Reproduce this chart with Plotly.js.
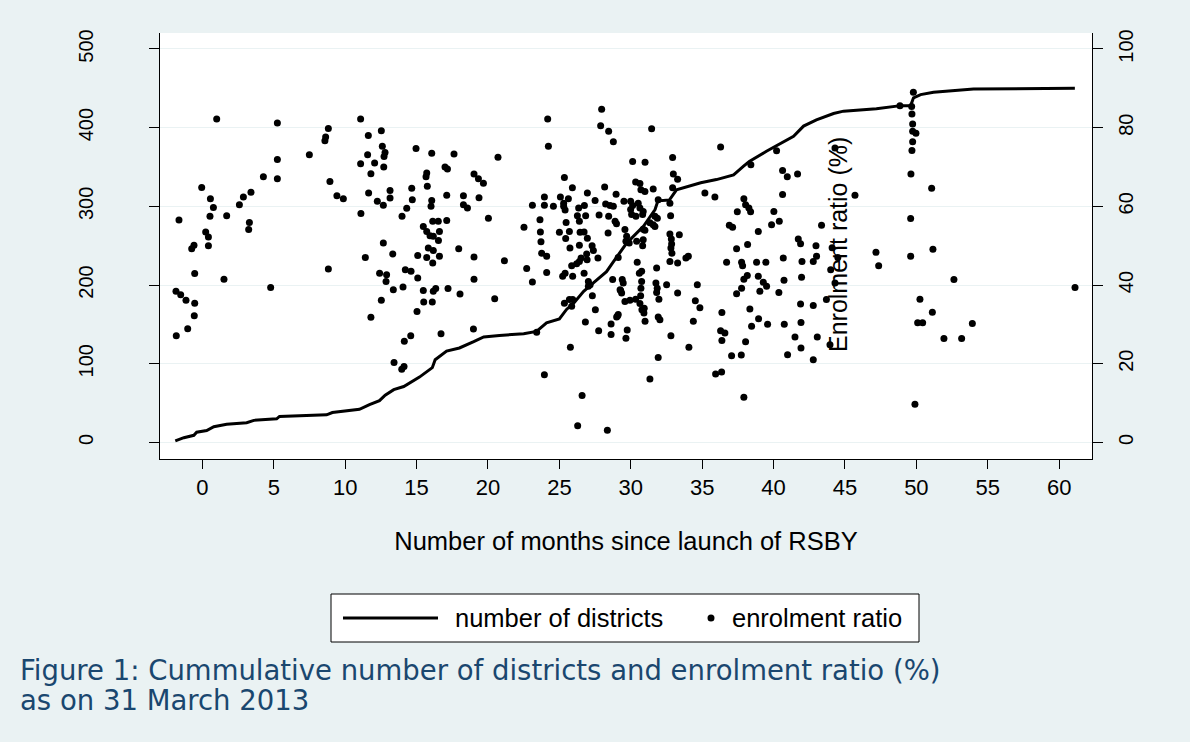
<!DOCTYPE html>
<html><head><meta charset="utf-8">
<script src="https://cdn.plot.ly/plotly-3.0.1.min.js"></script>
<style>html,body{margin:0;padding:0;background:#EAF2F3;}#chart{width:1190px;height:742px;}</style>
</head><body><div id="chart"></div>
<script>
// ---- data ----
const curveMonths = [-1.9,-1.3,-0.6,-0.4,0.3,0.8,1.7,3.1,3.6,5.2,5.4,8.7,9.1,11.0,11.7,12.4,12.8,13.4,14.1,15.2,16.1,16.3,17.1,18.0,19.0,19.7,20.8,22.5,23.4,24.1,25.0,25.5,26.0,26.7,27.4,28.3,28.8,29.7,30.9,31.7,31.9,32.7,33.2,33.9,34.9,36.0,37.2,37.9,38.3,39.5,40.5,41.4,42.1,43.0,44.2,44.9,47.2,48.9,49.6,49.8,50.3,51.2,54.0,61.1];
const curveDistricts = [2,6,9,13,15,20,23,25,28,30,33,35,38,42,48,53,60,67,71,83,95,105,116,120,128,134,136,138,141,152,157,169,177,192,203,217,230,253,275,296,307,308,321,325,330,334,340,351,357,370,380,389,402,410,418,421,424,428,428,438,442,445,449,450];

const enrolmentPoints = [
[1.0,82.2],[5.25,81.2],[8.82,79.8],[8.63,77.6],[8.58,76.7],[11.08,82.2],[12.53,79.2],[11.62,78.0],[12.6,75.3],[12.79,73.7],
[12.72,72.7],[11.57,73.1],[11.08,70.8],[12.06,71.0],[12.7,70.0],[11.8,68.3],[7.49,73.1],[5.25,71.9],[5.25,67.0],[4.27,67.5],
[-0.05,64.8],[0.56,61.9],[0.77,59.7],[0.53,57.5],[1.7,57.6],[2.59,60.4],[2.87,62.4],[3.4,63.6],[3.29,55.9],[3.24,54.1],
[-1.64,56.5],[0.23,53.5],[0.42,52.2],[0.42,50.0],[-0.75,49.2],[-0.59,50.1],[-0.54,42.9],[1.51,41.5],[8.93,66.3],[9.42,62.7],
[9.87,61.9],[11.1,58.2],[11.64,63.4],[12.25,61.3],[12.67,60.3],[12.67,50.7],[11.41,47.0],[8.82,44.1],[12.41,43.0],[12.9,42.6],
[-1.85,38.4],[-1.52,37.5],[-1.15,36.1],[-0.54,35.4],[-0.57,32.2],[-1.03,28.9],[-1.83,27.1],[4.78,39.4],[12.86,40.9],[12.53,36.1],[11.8,31.8],
[13.14,64.0],[13.14,62.1],[14.96,74.7],[16.06,73.5],[17.62,73.3],[16.99,70.0],[17.16,69.5],[15.71,68.5],[15.66,67.5],[15.75,65.1],
[14.66,64.6],[14.7,61.7],[14.31,59.5],[13.98,57.5],[16.06,61.5],[16.01,60.0],[17.11,62.8],[18.28,62.7],[18.28,60.4],[18.56,59.6],
[19.02,68.2],[19.33,67.0],[19.68,65.9],[19.37,62.2],[20.03,57.0],[20.7,72.5],
[15.47,54.9],[15.71,53.6],[15.94,52.5],[16.17,52.4],[16.13,56.2],[16.52,56.2],[16.6,53.6],[16.53,51.3],[17.11,56.4],[15.82,49.4],
[16.17,48.8],[16.6,47.3],[15.71,47.0],[16.13,45.6],[15.08,47.5],[17.95,49.2],[19.02,47.1],[21.15,46.2],[13.33,47.9],[14.21,43.9],
[14.61,43.5],[15.08,41.8],[19.02,41.5],[22.71,44.2],
[22.52,54.7],[23.11,60.3],[23.64,56.6],[23.67,53.5],[23.71,51.0],[23.76,48.1],[24.11,47.3],[24.11,43.2],[23.95,62.4],[23.95,60.3],
[24.58,60.0],[24.18,82.2],[24.23,75.3],[25.35,67.3],[25.91,64.7],[25.07,62.4],[25.63,61.9],[25.3,60.8],[25.3,60.0],[25.4,59.1],
[25.47,55.9],[25.0,53.4],[25.7,53.6],[25.44,51.8],[25.74,49.4],[26.26,57.6],[26.4,56.2],[26.35,59.6],[26.75,60.2],[26.84,57.6],
[26.96,63.4],[27.5,61.5],[26.45,53.4],[26.73,53.5],[26.96,51.9],[26.4,50.1],[27.29,50.0],[27.38,48.8],[26.91,47.9],[26.94,46.4],
[26.52,46.9],[26.4,46.0],[26.21,45.4],[25.86,44.9],[25.4,43.0],[25.23,42.2],[26.73,43.0],[27.7,46.9],[27.96,84.7],[27.89,80.5],
[28.45,79.1],[28.78,76.4],[28.17,64.9],[28.97,63.1],[27.78,57.8],[28.24,60.6],[28.55,60.2],[28.78,60.0],[28.45,57.5],[28.9,56.2],
[29.0,55.6],[28.41,53.2],
[13.37,38.8],[14.05,39.5],[15.47,38.6],[16.17,38.4],[16.34,39.1],[15.5,35.7],[16.1,35.7],[15.03,33.3],[17.2,39.1],[18.04,37.7],
[20.47,36.5],[14.59,27.1],[14.14,25.7],[16.71,27.6],[18.98,28.8],[13.42,20.3],[13.96,18.6],[14.12,19.3],[23.11,40.8],[23.41,28.0],
[23.95,17.2],[25.93,42.2],[27.03,40.9],[27.15,40.1],[27.03,39.7],[28.73,41.4],[29.25,38.8],[27.31,37.3],[25.35,35.4],[25.7,36.3],
[25.93,36.3],[25.86,34.6],[27.52,33.7],[26.82,30.6],[27.75,28.4],[28.62,30.1],[28.62,27.4],[29.08,32.2],[25.77,24.2],[26.59,11.9],
[26.28,4.2],[28.36,3.1],
[31.46,79.7],[30.13,71.4],[31.0,71.2],[32.93,72.4],[32.98,68.2],[33.28,66.9],[32.93,64.7],[30.34,66.2],[30.64,65.8],[30.71,64.2],
[30.99,63.8],[31.57,64.4],[29.52,61.3],[29.99,61.3],[30.13,60.2],[29.99,59.2],[30.06,57.9],[30.52,60.8],[30.64,59.6],[30.87,58.7],
[30.83,57.9],[30.36,57.5],[31.92,61.7],[32.74,60.8],[32.79,57.6],[31.69,57.5],[31.86,57.0],[31.34,55.8],[31.57,55.3],[31.69,54.9],
[30.87,54.2],[30.99,53.9],[29.59,54.1],[29.71,52.4],[29.66,51.1],[29.89,50.7],[30.41,51.1],[30.87,51.5],[30.83,50.0],[29.12,47.0],
[30.45,45.8],[30.76,43.5],[30.6,43.0],[31.81,44.3],[32.74,46.0],[33.28,45.6],[33.86,46.9],[34.03,47.3],[32.84,51.7],[32.86,50.4],
[32.81,49.4],[32.88,48.1],[33.4,52.8],[32.74,53.0],[35.19,63.4],[35.89,62.4],[36.29,75.1],[38.41,70.6],[40.21,74.1],[40.63,69.1],
[40.96,67.5],[41.68,68.2],[40.63,63.0],[37.92,61.9],[38.04,60.4],[38.27,59.6],[38.39,58.6],[37.46,58.6],[36.9,55.2],[37.13,54.7],
[38.93,53.6],[38.18,50.3],[37.41,49.2],[36.71,45.8],[37.76,45.8],[37.83,44.9],[38.81,45.8],[39.46,45.8],[40.02,58.7],[39.86,55.3],
[40.4,56.2],[40.68,46.9],[41.73,51.7],[41.89,50.5],[41.99,46.0],[42.78,46.0],[43.01,47.3],[42.97,50.0],[43.36,55.2],[44.3,74.8],
[41.96,42.0],[29.4,41.4],[29.47,40.5],[29.29,38.6],[29.36,38.0],[29.59,35.8],[29.94,36.1],[30.34,36.4],[30.64,35.3],[30.78,33.7],
[30.92,32.9],[30.94,34.1],[30.69,37.3],[30.71,39.2],[30.76,40.9],[31.76,40.5],[31.85,39.2],[31.81,38.1],[31.97,36.4],[32.51,40.1],
[33.28,38.0],[34.66,40.1],[34.52,36.0],[34.84,34.2],[34.38,30.8],[29.12,32.5],[29.01,31.9],[29.75,28.6],[29.66,26.5],[31.0,30.8],
[31.92,31.9],[32.04,31.2],[32.81,27.1],[31.92,21.6],[34.07,24.2],[31.34,16.1],[36.38,33.0],[36.29,28.4],[36.59,27.8],[36.38,25.9],
[37.06,22.0],[37.74,22.2],[35.94,17.4],[36.36,17.9],[37.92,11.5],[37.41,37.8],[37.76,39.2],[37.92,41.5],[38.16,42.4],[38.93,42.2],
[39.28,40.7],[39.51,39.7],[39.04,38.4],[40.37,38.1],[40.73,41.2],[38.34,33.9],[38.95,31.4],[38.46,29.5],[39.58,30.0],[38.04,25.6],
[40.75,30.0],[41.5,26.8],[40.98,22.3],[41.92,30.5],[41.89,35.2],[42.78,34.8],[43.06,26.8],[41.92,24.0],[42.78,21.0],
[43.95,24.8],[43.7,36.3],[44.0,43.9],[44.3,40.5],[44.1,49.5],[44.5,47.0],
[49.79,89.0],[48.85,85.6],[49.67,85.4],[49.69,83.5],[49.74,80.9],[49.74,79.1],[49.97,78.6],[49.74,76.4],[49.69,74.2],[49.62,68.2],
[51.07,64.6],[45.7,62.8],[49.6,56.9],[47.17,48.3],[47.36,44.9],[49.6,47.3],[51.16,49.1],[52.63,41.4],
[61.11,39.4],[50.25,36.4],[51.12,33.1],[50.09,30.4],[50.44,30.4],[53.92,30.2],[51.93,26.4],[53.17,26.4],[49.9,9.7]
];

const xTickVals = [0,5,10,15,20,25,30,35,40,45,50,55,60];
const leftTickVals = [0,100,200,300,400,500];
const rightTickVals = [0,20,40,60,80,100];
const xTitle = "Number of months since launch of RSBY";
const rightTitle = "Enrolment ratio (%)";
const legendLabels = ["number of districts", "enrolment ratio"];
const captionLines = ["Figure 1: Cummulative number of districts and enrolment ratio (%)", "as on 31 March 2013"];

// ---- layout helpers (pixel -> paper) ----
const FIG_W = 1190, FIG_H = 742;
const M = {l:160, r:98, t:33, b:283};
const PW = FIG_W - M.l - M.r, PH = FIG_H - M.t - M.b;
const px = x => (x - M.l) / PW;
const py = y => (FIG_H - M.b - y) / PH;
const FONT = "Liberation Sans, Arial, Helvetica, sans-serif";
const CAP_FONT = "DejaVu Sans, Liberation Sans, Arial, sans-serif";

const traces = [
  {x: curveMonths, y: curveDistricts, type:'scatter', mode:'lines', name: legendLabels[0],
   line:{color:'#000', width:3}, yaxis:'y', showlegend:false, hoverinfo:'skip'},
  {x: enrolmentPoints.map(p=>p[0]), y: enrolmentPoints.map(p=>p[1]), type:'scatter', mode:'markers',
   name: legendLabels[1], marker:{color:'#000', size:7}, yaxis:'y2', showlegend:false}
];

const layout = {
  width: FIG_W, height: FIG_H,
  margin: M,
  paper_bgcolor:'#EAF2F3', plot_bgcolor:'#FFFFFF',
  font:{family:FONT, color:'#000'},
  showlegend:false,
  xaxis:{range:[-2.97,62.3], tickmode:'array', tickvals:xTickVals, ticks:'outside', ticklen:9, tickwidth:1, tickcolor:'#000',
    showline:true, linecolor:'#000', linewidth:1, showgrid:false, zeroline:false,
    tickfont:{size:22, family:FONT, color:'#000'},
    title:{text:xTitle, font:{size:25.5, family:FONT, color:'#000'}, standoff:32}},
  yaxis:{range:[-21.1,520.3], tickmode:'array', tickvals:leftTickVals, tickangle:-90, ticks:'outside', ticklen:10, tickwidth:1, tickcolor:'#000',
    showline:true, linecolor:'#000', linewidth:1, showgrid:true, gridcolor:'#EAF2F3', gridwidth:1, zeroline:false,
    tickfont:{size:20, family:FONT, color:'#000'}, ticklabelstandoff:48},
  yaxis2:{range:[-4.22,104.06], overlaying:'y', side:'right', tickmode:'array', tickvals:rightTickVals, tickangle:-90, ticks:'outside', ticklen:10, tickwidth:1, tickcolor:'#000',
    showline:true, linecolor:'#000', linewidth:1, showgrid:false, zeroline:false,
    tickfont:{size:20, family:FONT, color:'#000'}, ticklabelstandoff:6},
  shapes:[
    {type:'rect', xref:'paper', yref:'paper', x0:px(331), x1:px(919), y0:py(642), y1:py(594), line:{color:'#000', width:1}, fillcolor:'#FFFFFF', layer:'below'},
    {type:'line', xref:'paper', yref:'paper', x0:px(343), x1:px(438), y0:py(618), y1:py(618), line:{color:'#000', width:3}},
    {type:'circle', xref:'paper', yref:'paper', x0:px(707.5), x1:px(714.5), y0:py(621.5), y1:py(614.5), line:{width:0}, fillcolor:'#000'}
  ],
  annotations:[
    {text:rightTitle, xref:'paper', yref:'paper', x:px(838), y:py(245), textangle:-90, showarrow:false,
     xanchor:'center', yanchor:'middle', font:{size:25, family:FONT, color:'#000'}},
    {text:legendLabels[0], xref:'paper', yref:'paper', x:px(453), y:py(618), showarrow:false, xanchor:'left', yanchor:'middle',
     font:{size:25.5, family:FONT, color:'#000'}},
    {text:legendLabels[1], xref:'paper', yref:'paper', x:px(730), y:py(618), showarrow:false, xanchor:'left', yanchor:'middle',
     font:{size:25.5, family:FONT, color:'#000'}},
    {text:captionLines[0], xref:'paper', yref:'paper', x:px(18), y:py(670), showarrow:false, xanchor:'left', yanchor:'middle',
     font:{size:27.5, family:CAP_FONT, color:'#1A476F'}},
    {text:captionLines[1], xref:'paper', yref:'paper', x:px(18), y:py(700), showarrow:false, xanchor:'left', yanchor:'middle',
     font:{size:27.5, family:CAP_FONT, color:'#1A476F'}}
  ]
};

Plotly.newPlot('chart', traces, layout, {displayModeBar:false, staticPlot:true});
</script>
</body></html>
